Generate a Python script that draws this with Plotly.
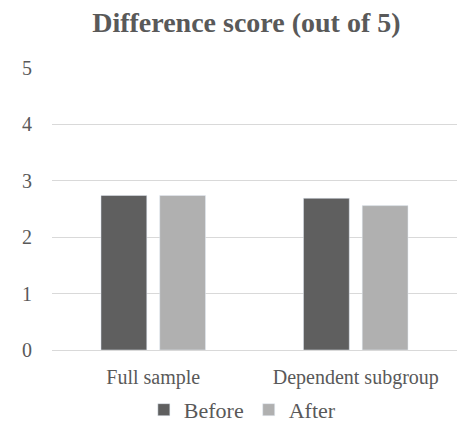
import plotly.graph_objects as go

categories = ["Full sample", "Dependent subgroup"]
before = [2.74, 2.69]
after = [2.74, 2.56]
y_ticks = [0, 1, 2, 3, 4, 5]

font_family = "Liberation Serif"
text_color = "#595959"

fig = go.Figure()
fig.add_trace(go.Bar(name="Before", x=categories, y=before, marker_color="#5f5f5f"))
fig.add_trace(go.Bar(name="After", x=categories, y=after, marker_color="#b0b0b0"))

fig.update_layout(
    width=457,
    height=423,
    margin=dict(l=52, r=0, t=68, b=73),
    paper_bgcolor="white",
    plot_bgcolor="white",
    barmode="group",
    bargap=0.42,
    bargroupgap=0.22,
    title=dict(
        text="<b>Difference score (out of 5)</b>",
        x=0.48,
        xref="paper",
        xanchor="center",
        y=0.948,
        yanchor="middle",
        font=dict(family=font_family, size=28, color=text_color),
    ),
    font=dict(family=font_family, size=20, color=text_color),
    legend=dict(
        orientation="h",
        x=0.47,
        xanchor="center",
        yref="container",
        y=0.031,
        yanchor="middle",
        font=dict(family=font_family, size=22, color=text_color),
        itemwidth=30,
        tracegroupgap=0,
    ),
    xaxis=dict(
        automargin=False,
        showline=True,
        linecolor="#d9d9d9",
        linewidth=1,
        ticks="",
        ticklabelstandoff=9,
        tickfont=dict(family=font_family, size=20, color=text_color),
    ),
    yaxis=dict(
        automargin=False,
        range=[0, 5],
        tickvals=y_ticks,
        showgrid=True,
        gridcolor="#d9d9d9",
        gridwidth=1,
        zeroline=False,
        ticks="",
        ticklabelstandoff=19,
        tickfont=dict(family=font_family, size=20, color=text_color),
    ),
)

fig.write_html("out.html")
